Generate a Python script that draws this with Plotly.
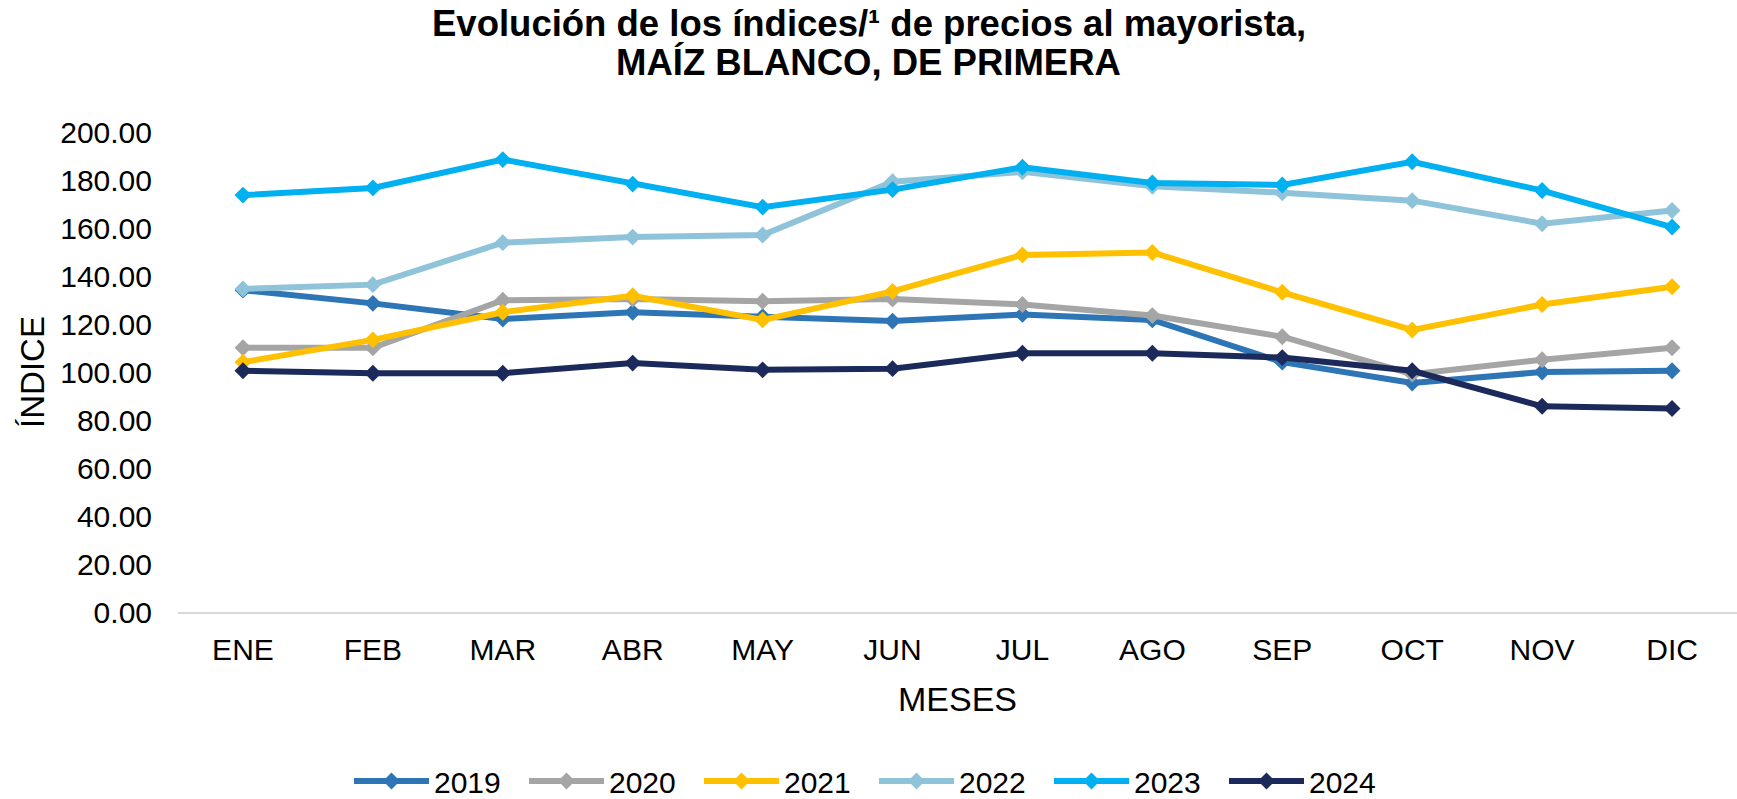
import plotly.graph_objects as go

months = ["ENE", "FEB", "MAR", "ABR", "MAY", "JUN", "JUL", "AGO", "SEP", "OCT", "NOV", "DIC"]

y2019 = [134.1, 128.6, 122.1, 124.9, 123.0, 121.2, 124.0, 121.7, 104.1, 95.4, 100.0, 100.5]
y2020 = [110.1, 110.1, 129.9, 130.4, 129.5, 130.4, 128.1, 123.5, 114.7, 99.1, 105.1, 110.1]
y2021 = [104.1, 113.4, 124.9, 131.8, 121.7, 133.6, 148.8, 149.8, 133.2, 117.5, 128.1, 135.5]
y2022 = [134.6, 136.4, 153.9, 156.2, 157.1, 179.3, 183.4, 177.4, 174.7, 171.4, 161.8, 167.3]
y2023 = [173.7, 176.7, 188.5, 178.3, 168.7, 176.0, 185.3, 178.8, 177.9, 187.6, 175.6, 160.4]
y2024 = [100.5, 99.5, 99.5, 103.7, 100.9, 101.4, 107.8, 107.8, 106.0, 100.5, 85.7, 84.8]

series = [
    ("2019", y2019, "#2E75B6"),
    ("2020", y2020, "#A5A5A5"),
    ("2021", y2021, "#FFC000"),
    ("2022", y2022, "#8EC3DA"),
    ("2023", y2023, "#00B0F0"),
    ("2024", y2024, "#1B2A5A"),
]

yticks = [0, 20, 40, 60, 80, 100, 120, 140, 160, 180, 200]

title_lines = ["Evolución de los índices/¹ de precios al mayorista,", "MAÍZ BLANCO, DE PRIMERA"]

FONT = "Arial, 'Liberation Sans', sans-serif"
W, H = 1737, 799
ML, MR, MT, MB = 178, 0, 132, 187
PH = H - MT - MB
PW = W - ML - MR

fig = go.Figure()
for name, vals, color in series:
    fig.add_trace(go.Scatter(
        x=months, y=vals, name=name, mode="lines+markers",
        line=dict(color=color, width=6),
        marker=dict(symbol="diamond", size=13, color=color),
    ))

# title lines as annotations (page-centred)
for text, ypix in zip(title_lines, [24, 63]):
    fig.add_annotation(
        text="<b>" + text + "</b>",
        xref="paper", yref="paper",
        x=(W / 2 - ML) / PW, y=(H - MB - ypix) / PH,
        xanchor="center", yanchor="middle", showarrow=False,
        font=dict(family=FONT, size=36.5, color="#000000"),
    )

fig.update_layout(
    width=W, height=H,
    paper_bgcolor="white", plot_bgcolor="white",
    font=dict(family=FONT, color="#000000", size=30),
    margin=dict(l=ML, r=MR, t=MT, b=MB),
    xaxis=dict(
        range=[-0.5, 11.5],
        showgrid=False, showline=True, linecolor="#D9D9D9", linewidth=2,
        ticks="", tickfont=dict(size=30), ticklabelstandoff=10,
        title=dict(text="MESES", font=dict(size=34), standoff=22),
    ),
    yaxis=dict(
        range=[0, 200], tickvals=yticks, tickformat=".2f",
        showgrid=False, showline=False, zeroline=False, ticks="",
        tickfont=dict(size=30), ticklabelstandoff=25,
        title=dict(text="ÍNDICE", font=dict(size=33), standoff=5),
    ),
    legend=dict(
        orientation="h", x=874 / W, xref="container", xanchor="center",
        y=1 - 781 / H, yref="container", yanchor="middle",
        font=dict(size=30), entrywidth=85, entrywidthmode="pixels",
        itemwidth=75,
    ),
    showlegend=True,
)

fig.write_html(
    "out.html",
    config={"displayModeBar": False},
    post_script="document.body.style.margin='0';document.body.style.overflow='hidden';",
)
